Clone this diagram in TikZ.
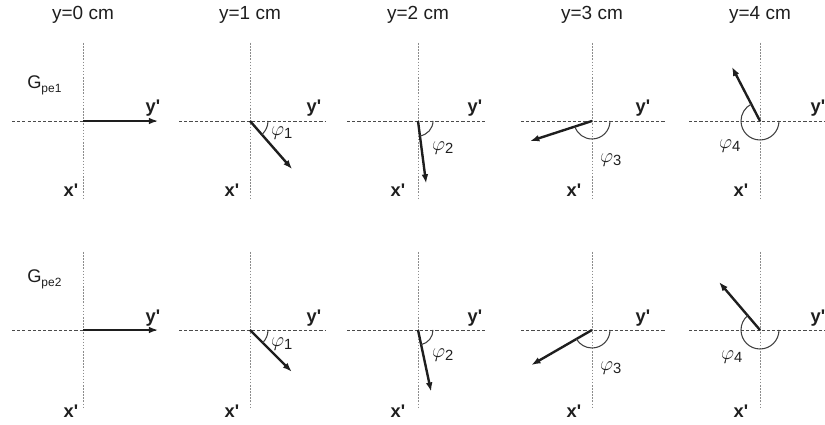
\documentclass[tikz,border=0pt]{standalone}
\usepackage{fontspec}
\setmainfont{Liberation Sans}
\usetikzlibrary{arrows.meta,calc}
\definecolor{axisgray}{HTML}{4A4A4A}
\definecolor{dotgray}{HTML}{8C8C8C}
\definecolor{ink}{HTML}{1E1E1E}
\tikzset{
  >={Latex[length=6.5pt,width=4.8pt]},
  haxis/.style ={draw=axisgray,line width=0.65pt,dash pattern=on 2.2pt off 1.5pt},
  vaxis/.style ={draw=dotgray,line width=0.7pt,dash pattern=on 1.1pt off 1.1pt},
  vec/.style   ={->,draw=ink,line width=1.7pt},
  angarc/.style={draw=ink!85,line width=0.75pt},
  head/.style  ={font=\fontsize{13.5}{15}\selectfont,text=ink,inner sep=0pt},
  axlbl/.style ={font=\fontsize{13}{14}\selectfont\bfseries,text=ink,inner sep=0pt},
  philbl/.style={font=\fontsize{15}{16}\selectfont,text=ink,inner sep=0pt},
  glbl/.style  ={font=\fontsize{13}{14}\selectfont,text=ink,inner sep=0pt,anchor=west},
}
\newcommand{\gsub}[1]{G\raisebox{-0.4ex}{\fontsize{8.5}{9}\selectfont #1}}

\begin{document}
\begin{tikzpicture}[x=0.025cm,y=-0.025cm]
\useasboundingbox (0,0) rectangle (825,425);
% panel origins and headers
\foreach \n/\px in {0/83,1/250,2/418,3/592,4/760}{
  \coordinate (oa\n) at (\px,121);
  \coordinate (ob\n) at (\px,330);
  \node[head] (hd\n) at (\px,15) {y=\n\ cm};
}
% axes
\foreach \r in {a,b}{
  \foreach \n/\rr in {0/74,1/75,2/69,3/73,4/66}{
    \draw[vaxis] ($(o\r\n)+(0,-78)$) -- ($(o\r\n)+(0,77)$);
    \draw[haxis] ($(o\r\n)+(-71,0)$) -- ($(o\r\n)+(\rr,0)$);
  }
}
% axis labels
\foreach \r/\yy/\xx in {a/108/190,b/318/411}{
  \foreach \n/\ya/\xa in {0/153/71,1/314/232,2/475/398,3/643/574,4/818/741}{
    \node[axlbl] (yl\r\n) at (\ya,\yy) {y\textquotesingle};
    \node[axlbl] (xl\r\n) at (\xa,\xx) {x\textquotesingle};
  }
}
\node[glbl] (g1) at (27,85) {\gsub{pe1}};
\node[glbl] (g2) at (27,279) {\gsub{pe2}};
% vectors
\foreach \r/\n/\ang/\len in {a/0/0/75,a/1/48.8/64,a/2/82.6/63,a/3/162/65,a/4/242.6/61,
                             b/0/0/75,b/1/45/59,b/2/78/63,b/3/150/70,b/4/229.5/63}{
  \coordinate (t\r\n) at ($(o\r\n)+(\ang:\len)$);
  \draw[vec] (o\r\n) -- (t\r\n);
}
% angles
\foreach \r/\n/\ang/\rad/\lx/\ly in {a/1/48.8/18/32/12,a/2/82.6/15/25/27,a/3/162/18/19/39,a/4/242.6/19/-30/25,
                                     b/1/45/18/32/14,b/2/78/15/25/25,b/3/150/18/19/38,b/4/229.5/19/-28/27}{
  \draw[angarc] ($(o\r\n)+(\rad,0)$) arc[start angle=0,end angle=\ang,radius=\rad];
  \node[philbl] (phi\r\n) at ($(o\r\n)+(\lx,\ly)$) {$\varphi_{\mathrm{\n}}$};
}
\end{tikzpicture}
\end{document}
